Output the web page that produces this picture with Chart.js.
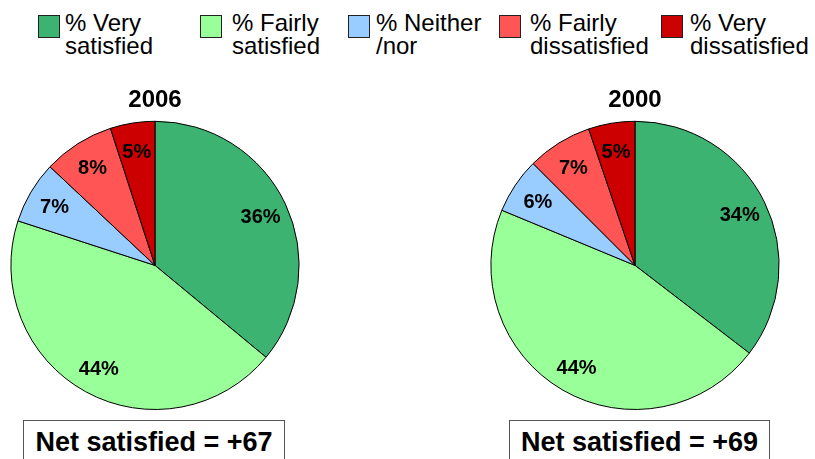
<!DOCTYPE html>
<html lang="en">
<head>
    <meta charset="UTF-8">
    <title>Satisfaction 2006 vs 2000</title>
    <script src="https://cdn.jsdelivr.net/npm/chart.js"></script>
    <style>
        body { margin: 0; width: 815px; height: 459px; overflow: hidden; background: #fff; font-family: "Liberation Sans", Arial, sans-serif; position: relative; }
        .legend-item { position: absolute; top: 15px; }
        .legend-item .sw { position: absolute; left: 0; top: 0; width: 20px; height: 21px; border: 1px solid #222; }
        .legend-item .txt { position: absolute; top: -4px; font-size: 24px; line-height: 23px; white-space: nowrap; color: #000; }
        .pie { position: absolute; }
        .net { position: absolute; top: 420px; height: 60px; border: 1px solid #555; font-weight: bold; font-size: 27px; text-align: center; line-height: 42px; color: #000; background: #fff; }
    </style>
</head>
<body>
    <div id="legend"></div>

    <div class="pie" style="left:10px; top:86px; width:290px; height:324px;"><canvas id="pie2006"></canvas></div>
    <div class="pie" style="left:490px; top:86px; width:290px; height:324px;"><canvas id="pie2000"></canvas></div>

    <div class="net" style="left:23px; width:260px;" id="net2006"></div>
    <div class="net" style="left:509px; width:259px;" id="net2000"></div>

    <script>
        var categories = ['% Very satisfied', '% Fairly satisfied', '% Neither /nor', '% Fairly dissatisfied', '% Very dissatisfied'];
        var legendLines = [['% Very', 'satisfied'], ['% Fairly', 'satisfied'], ['% Neither', '/nor'], ['% Fairly', 'dissatisfied'], ['% Very', 'dissatisfied']];
        var colors = ['#3cb371', '#99ff99', '#99ccff', '#ff5555', '#cc0000'];
        var values2006 = [36, 44, 7, 8, 5];
        var values2000 = [34, 44, 6, 7, 5];
        var net2006 = '+67';
        var net2000 = '+69';

        // legend, built by hand since the labels wrap on two lines
        var legendX = [38, 200, 348, 499, 661];
        var legendTextX = [27, 32, 28, 31, 29];
        var legend = document.getElementById('legend');
        categories.forEach(function (c, i) {
            var item = document.createElement('div');
            item.className = 'legend-item';
            item.style.left = legendX[i] + 'px';
            item.innerHTML = '<div class="sw" style="background:' + colors[i] + '"></div>' +
                '<div class="txt" style="left:' + legendTextX[i] + 'px">' + legendLines[i].join('<br>') + '</div>';
            legend.appendChild(item);
        });

        document.getElementById('net2006').innerText = 'Net satisfied = ' + net2006;
        document.getElementById('net2000').innerText = 'Net satisfied = ' + net2000;

        // percentage labels drawn at ~80% of the radius
        var sliceLabels = {
            id: 'sliceLabels',
            afterDatasetsDraw: function (chart) {
                var ctx = chart.ctx;
                var data = chart.data.datasets[0].data;
                ctx.save();
                ctx.font = 'bold 20px "Liberation Sans", Arial, sans-serif';
                ctx.fillStyle = '#000';
                ctx.textAlign = 'center';
                ctx.textBaseline = 'middle';
                chart.getDatasetMeta(0).data.forEach(function (arc, i) {
                    var p = arc.getProps(['x', 'y', 'startAngle', 'endAngle', 'outerRadius'], true);
                    var mid = (p.startAngle + p.endAngle) / 2;
                    var r = p.outerRadius * 0.81;
                    ctx.fillText(data[i] + '%', p.x + Math.cos(mid) * r, p.y + Math.sin(mid) * r + 2);
                });
                ctx.restore();
            }
        };

        function drawPie(id, title, values) {
            new Chart(document.getElementById(id), {
                type: 'pie',
                data: {
                    labels: categories,
                    datasets: [{
                        data: values,
                        backgroundColor: colors,
                        borderColor: '#000',
                        borderWidth: 1
                    }]
                },
                options: {
                    responsive: true,
                    maintainAspectRatio: false,
                    animation: false,
                    layout: { padding: 0 },
                    plugins: {
                        legend: { display: false },
                        tooltip: { enabled: false },
                        title: {
                            display: true,
                            text: title,
                            color: '#000',
                            font: { family: '"Liberation Sans", Arial, sans-serif', size: 24, weight: 'bold', lineHeight: 1.2 },
                            padding: { top: 0, bottom: 6 }
                        }
                    }
                },
                plugins: [sliceLabels]
            });
        }

        drawPie('pie2006', '2006', values2006);
        drawPie('pie2000', '2000', values2000);
    </script>
</body>
</html>
